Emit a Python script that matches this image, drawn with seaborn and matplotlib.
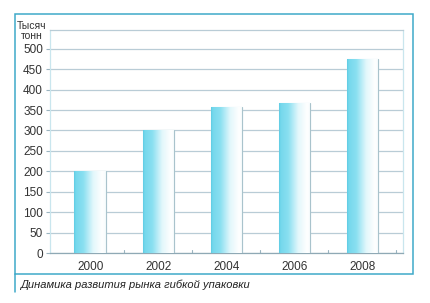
import numpy as np
import pandas as pd
import matplotlib
matplotlib.use("Agg")
import matplotlib.pyplot as plt
from matplotlib.colors import LinearSegmentedColormap
from matplotlib.patches import Rectangle
from matplotlib.lines import Line2D
import seaborn as sns

years = ["2000", "2002", "2004", "2006", "2008"]
volumes = [200, 300, 357, 367, 476]
yticks = [0, 50, 100, 150, 200, 250, 300, 350, 400, 450, 500]
ylabel_lines = ["Тысяч", "тонн"]
caption = "Динамика развития рынка гибкой упаковки"

sns.set_theme(style="white")
plt.rcParams['font.family'] = ['Liberation Sans', 'DejaVu Sans']

W, H = 430, 303
fig = plt.figure(figsize=(W / 100, H / 100), dpi=100)
ax = fig.add_axes([50 / W, (H - 253) / H, (403 - 50) / W, (253 - 30) / H])

df = pd.DataFrame({"year": years, "volume": volumes})
sns.barplot(data=df, x="year", y="volume", ax=ax, width=0.46,
            color="white", edgecolor="#c4e8f0", linewidth=0.8, zorder=3)

cmap = LinearSegmentedColormap.from_list("cyl", [
    (0.0, "#5cc9e2"), (0.05, "#74d8ec"), (0.3, "#8be0f1"),
    (0.6, "#e2f7fb"), (0.88, "#ffffff"), (1.0, "#f6fcfd")])
grad = np.linspace(0, 1, 256).reshape(1, -1)
for p in ax.patches:
    x0, y0 = p.get_x(), p.get_y()
    w, h = p.get_width(), p.get_height()
    im = ax.imshow(grad, cmap=cmap, aspect="auto", extent=[x0, x0 + w, y0, y0 + h],
                   zorder=3.5, interpolation="bicubic")
    im.set_clip_path(p)
    ax.plot([x0 + w, x0 + w], [y0, y0 + h], color="#a9c3cc", lw=0.8, zorder=4)

ax.set_xlim(-0.59, 4.6)
ax.set_ylim(0, 546)
ax.set_yticks(yticks)
ax.set_yticklabels([str(v) for v in yticks], fontsize=8.5, color="#333333")
ax.set_xticks(range(len(years)))
ax.set_xticklabels(years, fontsize=8.5, color="#333333")
ax.tick_params(axis="x", length=0, pad=6)
ax.tick_params(axis="y", length=3, width=0.8, color="#9ab4c0", pad=2, left=True)
for xb in [0.5, 1.5, 2.5, 3.5, 4.5]:
    ax.plot([xb, xb], [0, 8], color="#9ab4c0", lw=0.8, zorder=2)
ax.set_xlabel("")
ax.set_ylabel("")
ax.yaxis.grid(True, color="#b9ccd6", lw=0.9)
ax.set_axisbelow(True)
for s in ["left", "right"]:
    ax.spines[s].set_color("#c9e6ee")
    ax.spines[s].set_linewidth(0.9)
ax.spines["top"].set_color("#b9ccd6")
ax.spines["top"].set_linewidth(0.9)
ax.spines["bottom"].set_color("#8fa9b5")
ax.spines["bottom"].set_linewidth(0.9)

fig.text(32 / W, 1 - 26 / H, ylabel_lines[0], fontsize=7.5, color="#333333",
         ha="center", va="center")
fig.text(32 / W, 1 - 36 / H, ylabel_lines[1], fontsize=7.5, color="#333333",
         ha="center", va="center")

frame_c = "#3ea9c9"
fig.add_artist(Rectangle((15 / W, 1 - 274 / H), (413 - 15) / W, (274 - 14) / H,
                         transform=fig.transFigure, fill=False, edgecolor=frame_c, lw=1.1))
fig.add_artist(Line2D([15 / W, 15 / W], [1 - 292 / H, 1 - 274 / H],
                      transform=fig.transFigure, color=frame_c, lw=1.1))
fig.text(20 / W, 1 - 285 / H, caption, fontsize=8, style="italic", color="#222222",
         ha="left", va="center")

fig.savefig("out.png", dpi=100, facecolor="white")
